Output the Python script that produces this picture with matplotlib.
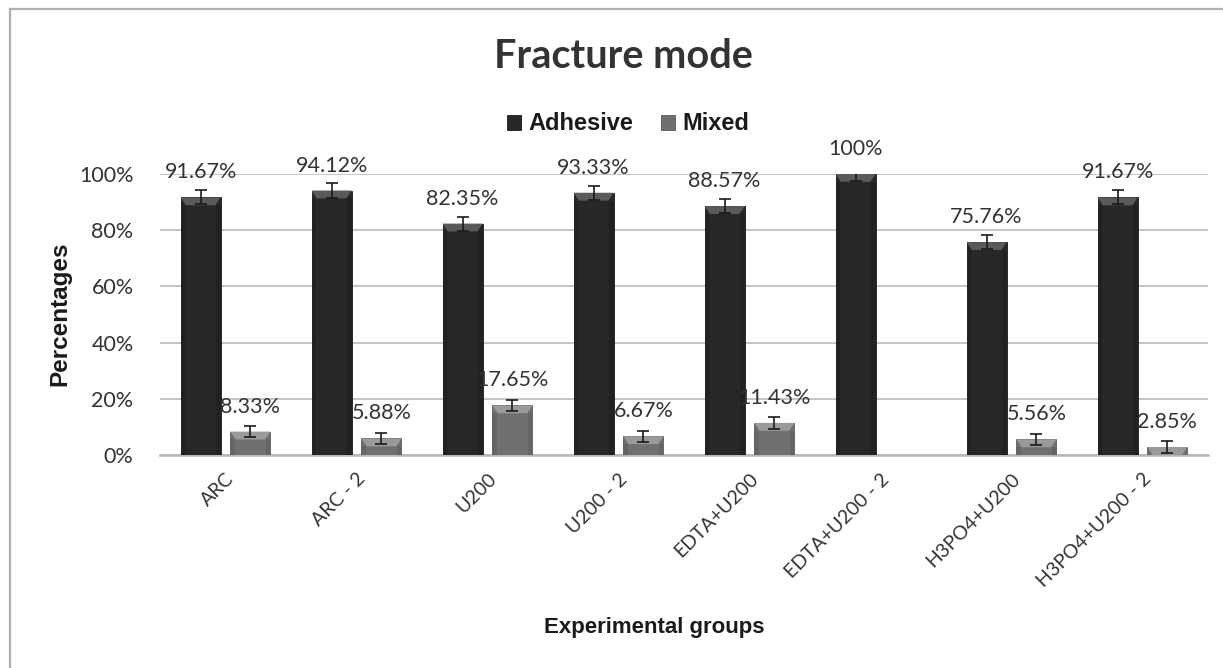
import matplotlib
matplotlib.use("Agg")
import matplotlib.pyplot as plt
import numpy as np
from matplotlib.patches import Polygon, Rectangle
from matplotlib.ticker import FuncFormatter

categories = ["ARC", "ARC - 2", "U200", "U200 - 2", "EDTA+U200",
              "EDTA+U200 - 2", "H3PO4+U200", "H3PO4+U200 - 2"]
adhesive = [91.67, 94.12, 82.35, 93.33, 88.57, 100, 75.76, 91.67]
mixed = [8.33, 5.88, 17.65, 6.67, 11.43, 0, 5.56, 2.85]
adhesive_err = [2.5] * 8
mixed_err = [2.0, 2.0, 2.0, 2.0, 2.0, 0, 2.0, 2.0]
yticks = [0, 20, 40, 60, 80, 100]

W, H = 1223, 668
fig = plt.figure(figsize=(W / 100, H / 100), dpi=100)
fig.patch.set_facecolor("white")

# outer border (left and top)
fig.add_artist(plt.Line2D([10 / W, 10 / W], [0, 1 - 9 / H], transform=fig.transFigure,
                          color="#b0b0b0", lw=1.6))
fig.add_artist(plt.Line2D([10 / W, 1], [1 - 9 / H, 1 - 9 / H], transform=fig.transFigure,
                          color="#b0b0b0", lw=1.6))

left, right, bottom, top = 160 / W, 1208 / W, 1 - 455 / H, 1 - 174 / H
ax = fig.add_axes([left, bottom, right - left, top - bottom])

x = np.arange(len(categories))
bw = 0.305
off = 0.19

b1 = ax.bar(x - off, adhesive, bw, color="#272727", edgecolor="#1a1a1a", lw=0.6,
            label="Adhesive", zorder=3)
b2 = ax.bar(x + off, mixed, bw, color="#707070", edgecolor="#5a5a5a", lw=0.6,
            label="Mixed", zorder=3)

# bevel highlights on bar tops
bev = 2.8
for bars, col, side in ((b1, "#5a5a5a", "#1e1e1e"), (b2, "#9a9a9a", "#5e5e5e")):
    for r in bars:
        h = r.get_height()
        if h <= 0:
            continue
        x0, w = r.get_x(), r.get_width()
        d = min(bev, h)
        ax.add_patch(Polygon([[x0, h], [x0 + w, h], [x0 + w - 0.04, h - d], [x0 + 0.04, h - d]],
                             closed=True, color=col, zorder=4, lw=0))
        ax.add_patch(Rectangle((x0, 0), w * 0.12, h - d, color=side, zorder=4, lw=0, alpha=0.6))
        ax.add_patch(Rectangle((x0 + w * 0.88, 0), w * 0.12, h - d, color=side, zorder=4, lw=0, alpha=0.6))

ax.errorbar(x - off, adhesive, yerr=adhesive_err, fmt="none", ecolor="#1a1a1a",
            elinewidth=1.2, capsize=4, capthick=1.2, zorder=5)
mx = [xi + off for xi, v in zip(x, mixed) if v > 0]
mv = [v for v in mixed if v > 0]
me = [e for e, v in zip(mixed_err, mixed) if v > 0]
ax.errorbar(mx, mv, yerr=me, fmt="none", ecolor="#1a1a1a",
            elinewidth=1.2, capsize=4, capthick=1.2, zorder=5)

lab_font = dict(family="Lato", fontsize=15.5, color="#333333")
for xi, v in zip(x - off, adhesive):
    ax.annotate(f"{v:g}%" if v == 100 else f"{v:.2f}%", (xi, v), xytext=(0, 18),
                textcoords="offset points", ha="center", va="center", zorder=6, **lab_font)
for xi, v in zip(x + off, mixed):
    if v > 0:
        ax.annotate(f"{v:.2f}%", (xi, v), xytext=(0, 18),
                    textcoords="offset points", ha="center", va="center", zorder=6, **lab_font)

ax.set_xlim(-0.5, len(categories) - 0.5)
ax.set_ylim(0, 100)
ax.set_yticks(yticks)
ax.yaxis.set_major_formatter(FuncFormatter(lambda v, p: f"{v:.0f}%"))
ax.grid(axis="y", color="#c4c4c4", lw=1.4, zorder=0)
ax.set_axisbelow(True)
for s in ax.spines.values():
    s.set_visible(False)
ax.axhline(0, color="#b8b8b8", lw=1.8, zorder=2, clip_on=False)
ax.tick_params(axis="both", length=0)
ax.tick_params(axis="y", pad=19)
for t in ax.get_yticklabels():
    t.set_fontfamily("Lato")
    t.set_fontsize(15.5)
    t.set_color("#333333")

ax.set_xticks(x)
ax.set_xticklabels(categories, rotation=45, ha="right", rotation_mode="anchor",
                   fontfamily="Lato", fontsize=14, color="#333333")
ax.tick_params(axis="x", pad=11)

fig.text(60 / W, 1 - 314 / H, "Percentages", ha="center", va="center", rotation=90,
         fontfamily="Liberation Sans", fontweight="bold", fontsize=17.5, color="#1a1a1a")
fig.text(654 / W, 1 - 627 / H, "Experimental groups", ha="center", va="center",
         fontfamily="Liberation Sans", fontweight="bold", fontsize=16, color="#1a1a1a")
fig.text(623 / W, 1 - 57 / H, "Fracture mode", ha="center", va="center",
         fontfamily="Lato", fontweight="bold", fontsize=28.5, color="#333333")

leg = fig.legend(handles=[b1, b2], labels=["Adhesive", "Mixed"], loc="center",
                 bbox_to_anchor=(628 / W, 1 - 124 / H), ncol=2, frameon=False,
                 prop=dict(family="Liberation Sans", weight="bold", size=17),
                 handlelength=0.6, handleheight=0.6, handletextpad=0.3, columnspacing=1.2)
for t in leg.get_texts():
    t.set_color("#1a1a1a")

fig.savefig("out.png", dpi=100, facecolor="white")
